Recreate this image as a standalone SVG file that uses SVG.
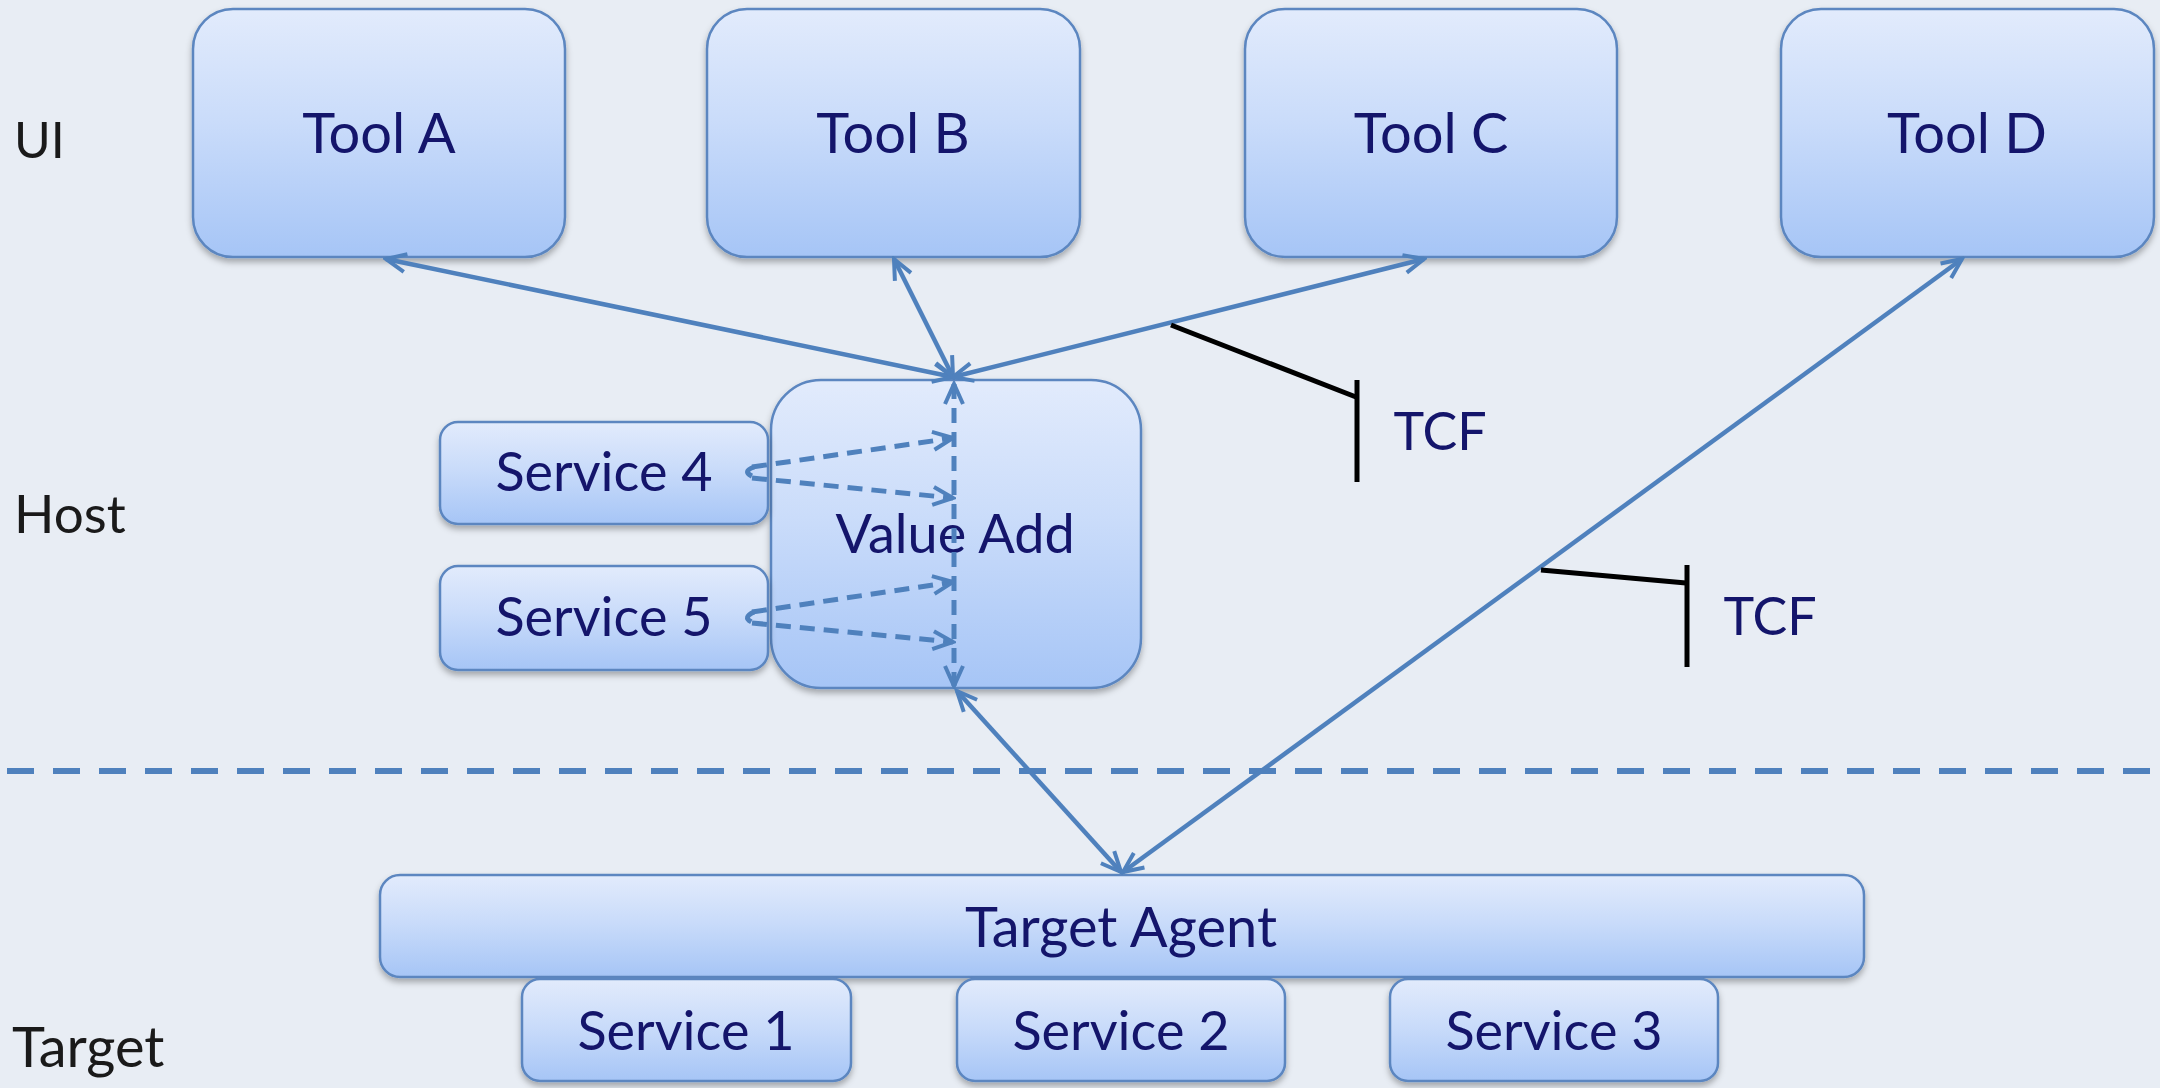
<svg xmlns="http://www.w3.org/2000/svg" width="2160" height="1088" viewBox="0 0 2160 1088">
<defs>
<linearGradient id="boxg" x1="0" y1="0" x2="0" y2="1">
<stop offset="0" stop-color="#e2ebfc"/>
<stop offset="0.45" stop-color="#cadcfa"/>
<stop offset="1" stop-color="#a6c5f6"/>
</linearGradient>
<filter id="sh" x="-10%" y="-10%" width="120%" height="130%">
<feDropShadow dx="0" dy="4" stdDeviation="3" flood-color="#000" flood-opacity="0.3"/>
</filter>
<marker id="arr" viewBox="0 0 26 26" refX="23" refY="13" markerUnits="userSpaceOnUse" markerWidth="26" markerHeight="26" orient="auto-start-reverse">
<path d="M3,4 L23,13 L3,22" fill="none" stroke="#4f81bd" stroke-width="4" stroke-linejoin="miter"/>
</marker>
<style>
.box{fill:url(#boxg);stroke:#5b86c0;stroke-width:2.5;filter:url(#sh)}
.lbl{font-family:Lato,"Liberation Sans",sans-serif;fill:#14156b;text-anchor:middle}
.layer{font-family:Lato,"Liberation Sans",sans-serif;fill:#1a1a1a}
.conn{stroke:#4f81bd;stroke-width:4.5;fill:none;marker-start:url(#arr);marker-end:url(#arr)}
.dash{stroke:#4f81bd;stroke-width:5;fill:none;stroke-dasharray:15 9}
.tcf{stroke:#000;stroke-width:5;fill:none}
</style>
</defs>
<rect width="2160" height="1088" fill="#e8edf4"/>

<g id="layers">
<text class="layer" x="14" y="158" font-size="50">UI</text>
<text class="layer" x="14" y="533" font-size="53">Host</text>
<text class="layer" x="12" y="1067" font-size="56">Target</text>
</g>

<line x1="7" y1="771" x2="2160" y2="771" stroke="#4f81bd" stroke-width="6" stroke-dasharray="27 19"/>

<g id="tool-a"><rect class="box" x="193" y="9" width="372" height="248" rx="40"/><text class="lbl" x="379" y="153" font-size="56">Tool A</text></g>
<g id="tool-b"><rect class="box" x="707" y="9" width="373" height="248" rx="40"/><text class="lbl" x="893" y="153" font-size="56">Tool B</text></g>
<g id="tool-c"><rect class="box" x="1245" y="9" width="372" height="248" rx="40"/><text class="lbl" x="1431" y="153" font-size="56">Tool C</text></g>
<g id="tool-d"><rect class="box" x="1781" y="9" width="373" height="248" rx="40"/><text class="lbl" x="1967" y="153" font-size="56">Tool D</text></g>

<g id="value-add"><rect class="box" x="771" y="380" width="370" height="308" rx="50"/><text class="lbl" x="955" y="553" font-size="54">Value Add</text></g>
<g id="service-4"><rect class="box" x="440" y="422" width="328" height="102" rx="18"/><text class="lbl" x="604" y="491" font-size="54">Service 4</text></g>
<g id="service-5"><rect class="box" x="440" y="566" width="328" height="104" rx="18"/><text class="lbl" x="604" y="636" font-size="54">Service 5</text></g>

<g id="target-agent"><rect class="box" x="380" y="875" width="1484" height="102" rx="20"/><text class="lbl" x="1121" y="947" font-size="56">Target Agent</text></g>
<g id="service-1"><rect class="box" x="522" y="979" width="329" height="102" rx="18"/><text class="lbl" x="686" y="1050" font-size="54">Service 1</text></g>
<g id="service-2"><rect class="box" x="957" y="979" width="328" height="102" rx="18"/><text class="lbl" x="1121" y="1050" font-size="54">Service 2</text></g>
<g id="service-3"><rect class="box" x="1390" y="979" width="328" height="102" rx="18"/><text class="lbl" x="1554" y="1050" font-size="54">Service 3</text></g>

<g id="connectors">
<line class="conn" x1="953" y1="377" x2="386" y2="259"/>
<line class="conn" x1="953" y1="377" x2="894" y2="259"/>
<line class="conn" x1="953" y1="377" x2="1424" y2="259"/>
<line class="conn" x1="1123" y1="872" x2="1962" y2="259" stroke-width="3.5"/>
<line class="conn" x1="957" y1="691" x2="1121" y2="872"/>
<line class="dash" x1="954" y1="384" x2="954" y2="686" stroke-width="4" marker-start="url(#arr)" marker-end="url(#arr)"/>
<path class="dash" d="M754,467 Q741,472 754,477"/>
<line class="dash" x1="752" y1="467" x2="953" y2="438" marker-end="url(#arr)"/>
<line class="dash" x1="752" y1="478" x2="953" y2="498" marker-end="url(#arr)"/>
<path class="dash" d="M754,612 Q741,618 754,623"/>
<line class="dash" x1="752" y1="612" x2="953" y2="582" marker-end="url(#arr)"/>
<line class="dash" x1="752" y1="623" x2="953" y2="642" marker-end="url(#arr)"/>
</g>

<g id="tcf-1">
<polyline class="tcf" points="1171,325 1356,397"/>
<line class="tcf" x1="1357" y1="380" x2="1357" y2="482" stroke-width="6"/>
<text class="lbl" x="1440" y="450" font-size="52">TCF</text>
</g>
<g id="tcf-2">
<polyline class="tcf" points="1541,570 1686,583"/>
<line class="tcf" x1="1687" y1="565" x2="1687" y2="667" stroke-width="6"/>
<text class="lbl" x="1770" y="635" font-size="52">TCF</text>
</g>
</svg>
